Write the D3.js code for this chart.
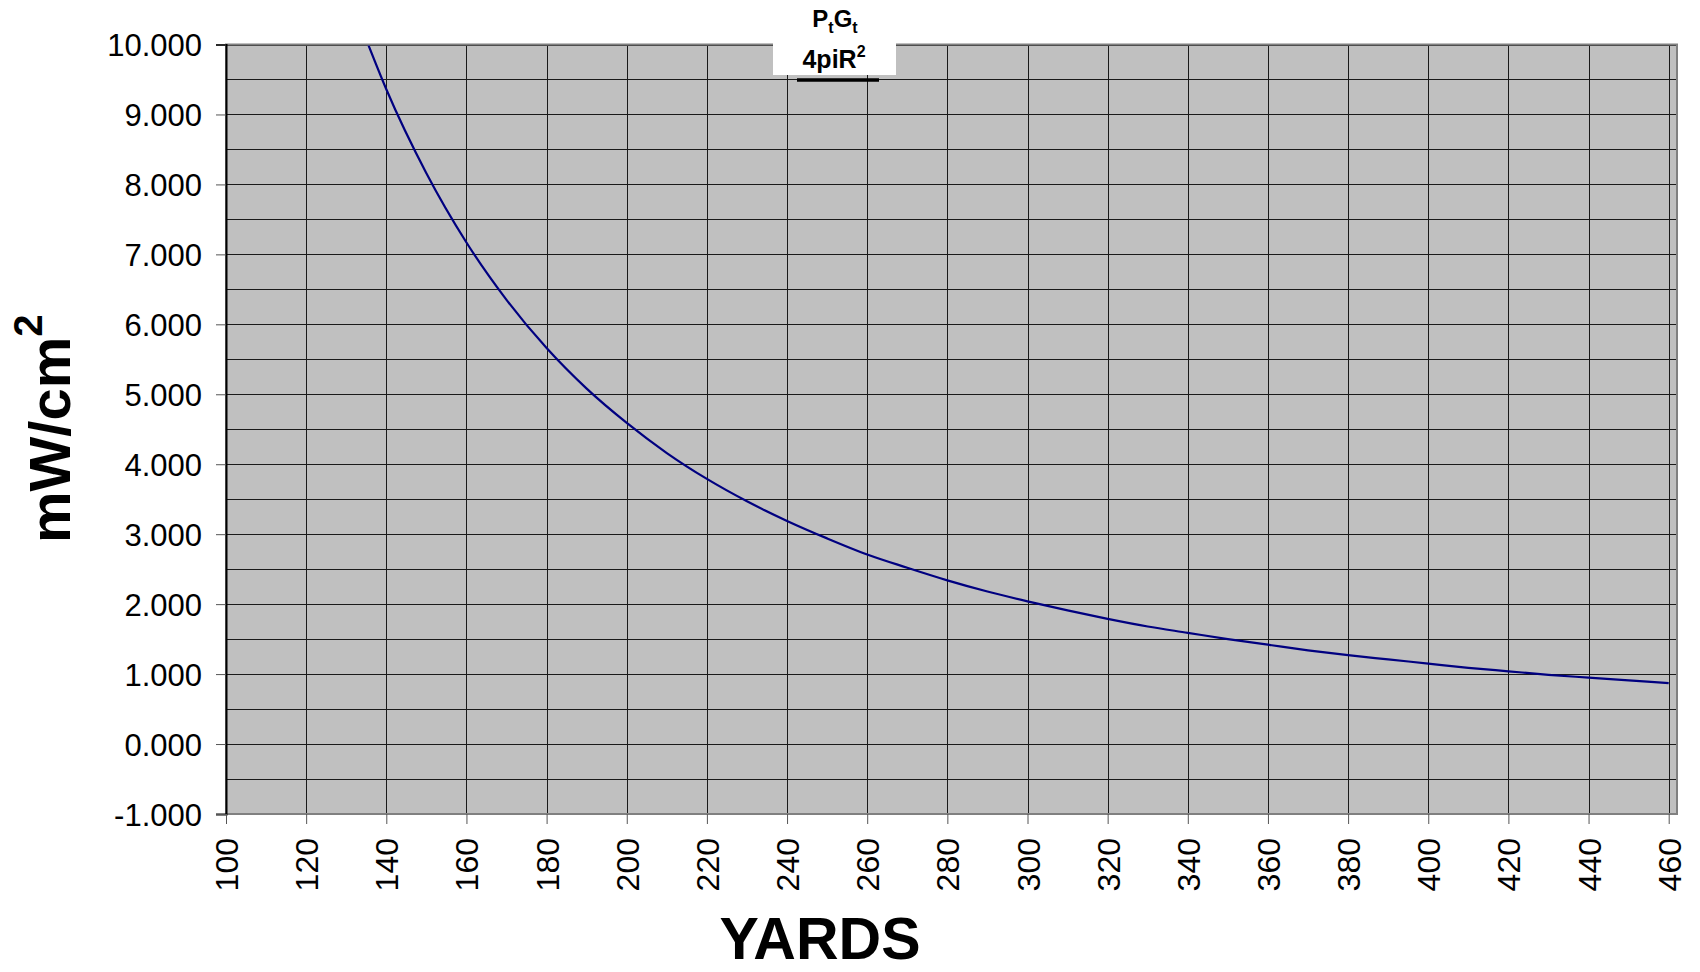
<!DOCTYPE html>
<html>
<head>
<meta charset="utf-8">
<script src="https://cdn.jsdelivr.net/npm/d3@7"></script>
<style>
  body { margin: 0; background: #fff; }
  svg { display: block; font-family: "Liberation Sans", Arial, sans-serif; }
</style>
</head>
<body>
<script>
// values (yards -> mW/cm2)
const yards = [135, 140, 150, 160, 170, 180, 190, 200, 210, 220, 230, 240, 250, 260, 270, 280, 290, 300,
  310, 320, 330, 340, 350, 360, 370, 380, 390, 400, 410, 420, 430, 440, 450, 460];
const density = [10.07, 9.36, 8.16, 7.17, 6.35, 5.66, 5.08, 4.59, 4.16, 3.79, 3.47, 3.19, 2.94, 2.71, 2.52, 2.34, 2.18, 2.04,
  1.91, 1.79, 1.68, 1.59, 1.50, 1.42, 1.34, 1.27, 1.21, 1.15, 1.09, 1.04, 0.99, 0.95, 0.91, 0.87];

const xTicks = d3.range(100, 461, 20);
const yTicks = d3.range(-1, 10.01, 1);
const yGrid = d3.range(-1, 10.01, 0.5);

const width = 1700, height = 972;
const margin = { top: 44.5, right: 23, bottom: 158, left: 226 };
const plotRight = width - margin.right;
const plotBottom = height - margin.bottom;

const x = d3.scaleLinear().domain([100, 460]).range([margin.left, 1668.7]);
const y = d3.scaleLinear().domain([-1, 10]).range([plotBottom, margin.top]);

const svg = d3.select("body").append("svg")
  .attr("width", width)
  .attr("height", height);

// plot background
svg.append("rect")
  .attr("x", margin.left)
  .attr("y", margin.top)
  .attr("width", plotRight - margin.left)
  .attr("height", plotBottom - margin.top)
  .attr("fill", "#c0c0c0");

// grid
svg.append("g")
  .selectAll("line")
  .data(yGrid)
  .join("line")
  .attr("x1", margin.left)
  .attr("x2", plotRight)
  .attr("y1", d => Math.round(y(d)) + 0.5)
  .attr("y2", d => Math.round(y(d)) + 0.5)
  .attr("stroke", "#1a1a1a")
  .attr("stroke-width", 1);

svg.append("g")
  .selectAll("line")
  .data(xTicks.slice(1))
  .join("line")
  .attr("x1", d => Math.round(x(d)) + 0.5)
  .attr("x2", d => Math.round(x(d)) + 0.5)
  .attr("y1", margin.top)
  .attr("y2", plotBottom)
  .attr("stroke", "#1a1a1a")
  .attr("stroke-width", 1);

// curve
svg.append("clipPath").attr("id", "clip")
  .append("rect")
  .attr("x", margin.left)
  .attr("y", margin.top)
  .attr("width", plotRight - margin.left)
  .attr("height", plotBottom - margin.top);

const line = d3.line()
  .x((d, i) => x(yards[i]))
  .y(d => y(d))
  .curve(d3.curveMonotoneX);

svg.append("path")
  .datum(density)
  .attr("clip-path", "url(#clip)")
  .attr("d", line)
  .attr("fill", "none")
  .attr("stroke", "#000080")
  .attr("stroke-width", 2.2);

// frame
svg.append("rect")
  .attr("x", margin.left)
  .attr("y", margin.top)
  .attr("width", plotRight - margin.left)
  .attr("height", plotBottom - margin.top)
  .attr("fill", "none")
  .attr("stroke", "#808080")
  .attr("stroke-width", 2);

// axes
const fmt = d => d3.format(".3f")(d).replace("\u2212", "-");

const yAxis = svg.append("g")
  .attr("transform", `translate(${margin.left},0)`)
  .call(d3.axisLeft(y).tickValues(yTicks).tickSize(10).tickPadding(14).tickFormat(fmt));
yAxis.select(".domain").attr("stroke", "#000").attr("stroke-width", 2);
yAxis.selectAll(".tick line").attr("stroke", "#555");
yAxis.selectAll("text")
  .attr("font-size", 31)
  .attr("fill", "#000")
  .attr("dy", "0.36em");

const xAxis = svg.append("g")
  .attr("transform", `translate(0,${plotBottom})`)
  .call(d3.axisBottom(x).tickValues(xTicks).tickSize(10).tickSizeOuter(0));
xAxis.select(".domain").remove();
xAxis.selectAll(".tick line").attr("stroke", "#555");
xAxis.selectAll("text")
  .attr("font-size", 32)
  .attr("fill", "#000")
  .attr("text-anchor", "end")
  .attr("transform", "rotate(-90)")
  .attr("x", -24)
  .attr("y", 0)
  .attr("dy", "0.36em");

// axis titles
svg.append("text")
  .attr("x", 820)
  .attr("y", 959)
  .attr("text-anchor", "middle")
  .attr("font-size", 59)
  .attr("font-weight", "bold")
  .text("YARDS");

const yt = svg.append("text")
  .attr("transform", "translate(70,543) rotate(-90)")
  .attr("font-size", 58)
  .attr("font-weight", "bold");
yt.append("tspan").text("mW/cm");
yt.append("tspan").attr("font-size", 40).attr("dy", -28).text("2");

// formula block on top
svg.append("rect")
  .attr("x", 773)
  .attr("y", 40)
  .attr("width", 123)
  .attr("height", 35)
  .attr("fill", "#fff");

const t1 = svg.append("text")
  .attr("x", 835)
  .attr("y", 27)
  .attr("text-anchor", "middle")
  .attr("font-size", 24)
  .attr("font-weight", "bold");
t1.append("tspan").text("P");
t1.append("tspan").attr("font-size", 16).attr("dy", 6).text("t");
t1.append("tspan").attr("dy", -6).text("G");
t1.append("tspan").attr("font-size", 16).attr("dy", 6).text("t");

const t2 = svg.append("text")
  .attr("x", 834)
  .attr("y", 68)
  .attr("text-anchor", "middle")
  .attr("font-size", 25)
  .attr("font-weight", "bold");
t2.append("tspan").text("4piR");
t2.append("tspan").attr("font-size", 16).attr("dy", -11).text("2");

svg.append("line")
  .attr("x1", 797)
  .attr("x2", 879)
  .attr("y1", 80)
  .attr("y2", 80)
  .attr("stroke", "#000")
  .attr("stroke-width", 3.5);
</script>
</body>
</html>
